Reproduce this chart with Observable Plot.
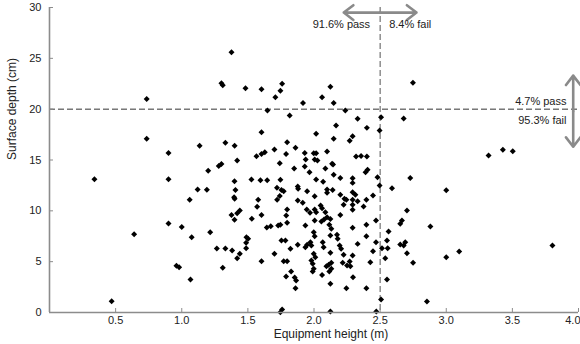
<!DOCTYPE html>
<html>
<head>
<meta charset="utf-8">
<script src="https://cdn.jsdelivr.net/npm/d3@7"></script>
<script src="https://cdn.jsdelivr.net/npm/@observablehq/plot@0.6"></script>
<style>
  html, body { margin: 0; padding: 0; background: #fff; }
  #chart svg { display: block; }
</style>
</head>
<body>
<div id="chart"></div>
<script>
// Equipment height (m) for each sample
const height = [
  0.34, 0.47, 0.64, 0.735, 0.735, 0.90, 1.135, 0.90, 1.12, 1.06,
  0.90, 1.00, 1.075, 0.96, 0.98, 1.066, 1.20, 1.28, 1.19, 1.215,
  1.265, 1.33, 1.31, 1.30, 1.31, 1.376, 1.33, 1.30, 1.482, 1.603,
  1.708, 1.746, 1.759, 1.917, 2.061, 2.124, 2.149, 1.648, 1.816, 1.40,
  1.419, 1.603, 1.797, 2.016, 2.149, 1.701, 1.86, 1.565, 1.603, 1.628,
  1.789, 1.93, 1.998, 2.016, 2.099, 1.741, 1.937, 2.005, 2.026, 1.85,
  1.93, 2.086, 2.137, 2.748, 2.237, 2.33, 2.167, 2.507, 2.678, 2.40,
  2.496, 2.292, 2.27, 2.318, 2.356, 2.40, 2.144, 2.405, 1.966, 2.149,
  1.399, 1.527, 1.595, 1.646, 1.746, 1.406, 1.396, 1.40, 1.72, 1.754,
  1.771, 1.741, 1.721, 1.877, 1.88, 1.948, 2.016, 2.069, 2.099, 2.099,
  2.141, 2.005, 1.578, 1.877, 1.915, 1.57, 1.439, 1.419, 1.399, 1.376,
  1.603, 1.53, 1.797, 1.79, 1.797, 1.746, 1.729, 1.673, 1.643, 1.945,
  1.97, 2.005, 2.016, 2.05, 2.061, 2.086, 2.099, 1.935, 2.005, 2.056,
  2.076, 2.116, 2.131, 1.489, 1.502, 1.487, 1.381, 1.419, 1.439, 1.487,
  1.603, 1.701, 1.754, 1.784, 1.822, 1.877, 1.771, 1.797, 1.827, 1.789,
  1.854, 1.865, 1.86, 1.935, 1.948, 1.973, 1.98, 1.998, 2.005, 2.066,
  2.073, 1.998, 1.98, 1.99, 2.01, 1.998, 1.99, 2.061, 2.094, 2.111,
  2.131, 2.116, 2.131, 2.124, 1.759, 1.746, 2.124, 2.199, 2.292, 2.292,
  2.39, 2.48, 2.496, 2.728, 2.59, 2.199, 2.23, 2.245, 2.292, 2.292,
  2.313, 2.33, 2.224, 2.292, 2.292, 2.375, 2.396, 2.446, 2.199, 2.124,
  2.292, 2.396, 2.469, 2.703, 2.665, 2.652, 2.88, 2.564, 2.124, 2.174,
  2.179, 2.194, 2.205, 2.396, 2.33, 2.469, 2.446, 2.514, 2.557, 2.552,
  2.539, 2.652, 2.678, 2.69, 2.703, 2.749, 2.124, 2.224, 2.292, 2.217,
  2.25, 2.275, 2.27, 2.426, 2.295, 2.552, 2.245, 2.396, 2.507, 2.854,
  2.471, 3.0, 3.0, 3.098, 3.803, 3.32, 3.428, 3.503
];
// Surface depth (cm) for each sample
const depth = [
  13.1, 1.1, 7.7, 21.0, 17.1, 15.7, 16.4, 13.1, 12.1, 11.1,
  8.75, 8.4, 7.4, 4.6, 4.45, 3.25, 13.95, 14.4, 12.07, 7.9,
  6.3, 6.3, 4.4, 22.55, 22.35, 25.6, 16.7, 14.6, 22.05, 21.96,
  21.17, 21.8, 22.5, 20.6, 21.17, 22.2, 20.6, 19.86, 19.37, 16.4,
  14.95, 17.73, 16.75, 17.57, 17.08, 16.03, 16.2, 15.37, 15.6, 15.76,
  15.6, 15.7, 15.67, 15.67, 15.83, 14.68, 15.04, 15.04, 14.95, 14.16,
  14.36, 14.16, 14.62, 22.6, 19.86, 19.05, 18.4, 19.2, 19.08, 18.16,
  17.9, 17.34, 16.9, 15.34, 15.4, 15.34, 14.55, 14.03, 13.8, 13.54,
  12.9, 13.08, 13.0, 13.0, 13.05, 12.06, 11.34, 11.18, 12.26, 12.06,
  11.93, 11.47, 11.08, 12.39, 12.16, 11.93, 13.08, 12.85, 12.1, 11.77,
  12.06, 11.44, 11.08, 11.01, 10.79, 10.39, 10.03, 9.77, 9.12, 9.6,
  9.6, 9.21, 10.13, 9.54, 8.82, 8.62, 8.55, 8.49, 8.36, 10.13,
  9.8, 10.13, 9.85, 10.52, 10.26, 9.86, 9.37, 8.55, 9.05, 8.95,
  9.14, 8.62, 8.23, 7.4, 7.25, 6.85, 6.1, 5.34, 5.77, 6.32,
  5.04, 5.77, 7.08, 7.08, 6.26, 6.66, 5.04, 5.04, 4.03, 3.54,
  3.44, 3.15, 2.39, 6.42, 6.66, 6.91, 6.59, 7.9, 7.5, 6.91,
  6.42, 5.77, 5.11, 4.79, 5.44, 4.3, 4.03, 3.7, 4.55, 4.69,
  4.89, 4.03, 4.3, 2.82, 0.3, 0.03, 0.1, 13.24, 13.21, 12.75,
  13.8, 13.3, 12.49, 13.24, 12.22, 11.57, 11.18, 11.1, 11.08, 11.83,
  11.57, 10.94, 10.59, 10.59, 10.1, 10.42, 11.08, 11.5, 9.6, 9.2,
  8.33, 8.62, 9.05, 10.03, 9.05, 8.72, 8.46, 7.96, 7.57, 7.64,
  7.25, 6.59, 6.26, 7.5, 6.75, 6.91, 6.03, 6.32, 6.32, 7.08,
  5.34, 6.69, 6.59, 6.91, 5.83, 4.89, 5.87, 5.67, 5.6, 4.89,
  4.62, 4.55, 5.01, 4.95, 3.47, 3.24, 2.39, 2.39, 1.28, 1.08,
  0.1, 12.03, 5.44, 6.0, 6.59, 15.44, 16.0, 15.86
];

const xTicks = [0.5, 1.0, 1.5, 2.0, 2.5, 3.0, 3.5, 4.0];
const yTicks = [0, 5, 10, 15, 20, 25, 30];

const xThreshold = 2.5;   // equipment height limit
const yThreshold = 20;    // surface depth limit
const xLabels = ["91.6% pass", "8.4% fail"];
const yLabels = ["4.7% pass", "95.3% fail"];

const points = height.map((h, i) => ({height: h, depth: depth[i]}));

const axisGray = "#8c8c8c";
const arrowGray = "#8a8a8a";
const textColor = "#222";
const font = "'Liberation Sans', Arial, Helvetica, sans-serif";
const fmt = d3.format(".1f");
const lastX = xTicks[xTicks.length - 1];

const chart = Plot.plot({
  width: 580,
  height: 344,
  marginLeft: 49,
  marginRight: 2,
  marginTop: 7,
  marginBottom: 32,
  style: {fontFamily: font, fontSize: "11px", color: textColor, background: "#fff"},
  x: {domain: [0, 4]},
  y: {domain: [0, 30]},
  marks: [
    // threshold lines
    Plot.ruleY([yThreshold], {stroke: "#333", strokeWidth: 1, strokeDasharray: "6,3"}),
    Plot.ruleX([xThreshold], {stroke: "#555", strokeWidth: 1, strokeDasharray: "6,3"}),
    // data
    Plot.dot(points, {x: "height", y: "depth", symbol: "diamond2", r: 2.7, fill: "#000", stroke: "none"}),
    // axes lines
    Plot.ruleY([0], {stroke: axisGray, strokeWidth: 1.6}),
    Plot.ruleX([0], {stroke: axisGray, strokeWidth: 1.6}),
    // axes ticks (inward) and labels
    Plot.axisX(xTicks, {tickSize: -4, tickPadding: 8, tickFormat: d => d === lastX ? "" : fmt(d), stroke: axisGray, fill: textColor, label: null, fontSize: 11}),
    Plot.text([lastX], {x: d => d, frameAnchor: "bottom", textAnchor: "end", lineAnchor: "top", dx: 2, dy: 4, text: d => fmt(d), fill: textColor, fontSize: 11}),
    Plot.axisY(yTicks, {tickSize: -4, tickPadding: 12, stroke: axisGray, fill: textColor, label: null, fontSize: 11}),
    // axis titles
    Plot.text(["Equipment height (m)"], {frameAnchor: "bottom", dx: 17, dy: 25, fontSize: 12, fill: textColor}),
    Plot.text(["Surface depth (cm)"], {frameAnchor: "left", rotate: -90, dx: -37, fontSize: 12, fill: textColor}),
    // horizontal double arrow (x threshold annotation)
    Plot.arrow([
      {x1: xThreshold, x2: xThreshold - 0.275},
      {x1: xThreshold, x2: xThreshold + 0.275}
    ], {x1: "x1", x2: "x2", y1: () => 29.5, y2: () => 29.5, stroke: arrowGray, strokeWidth: 2.6, headLength: 7, headAngle: 75}),
    Plot.text([{x: xThreshold, y: 30, t: xLabels[0]}], {x: "x", y: "y", text: "t", textAnchor: "end", dx: -10, dy: 17, fill: textColor, fontSize: 11}),
    Plot.text([{x: xThreshold, y: 30, t: xLabels[1]}], {x: "x", y: "y", text: "t", textAnchor: "start", dx: 9, dy: 17, fill: textColor, fontSize: 11}),
    // vertical double arrow (y threshold annotation)
    Plot.arrow([
      {y1: yThreshold - 0.2, y2: yThreshold + 3.3},
      {y1: yThreshold - 0.2, y2: yThreshold - 3.7}
    ], {x1: () => 3.96, x2: () => 3.96, y1: "y1", y2: "y2", stroke: arrowGray, strokeWidth: 2.6, headLength: 7, headAngle: 75}),
    Plot.text([{x: 4, y: yThreshold, t: yLabels[0]}], {x: "x", y: "y", text: "t", textAnchor: "end", dx: -12, dy: -8, fill: textColor, fontSize: 11}),
    Plot.text([{x: 4, y: yThreshold, t: yLabels[1]}], {x: "x", y: "y", text: "t", textAnchor: "end", dx: -12, dy: 11, fill: textColor, fontSize: 11})
  ]
});

document.getElementById("chart").appendChild(chart);
</script>
</body>
</html>
